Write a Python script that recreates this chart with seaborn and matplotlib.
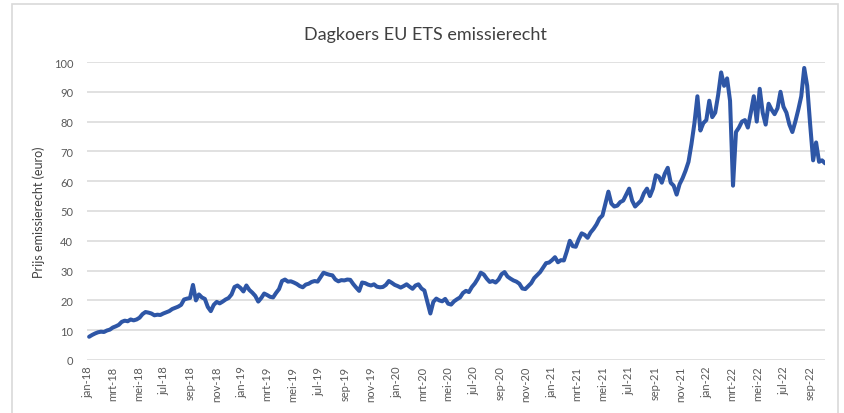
import numpy as np
import pandas as pd
import matplotlib
matplotlib.use("Agg")
import matplotlib.pyplot as plt
from matplotlib.patches import Rectangle
import seaborn as sns

# Weekly (Friday) closing prices, EUR
prices_2018 = [7.8, 8.4, 8.9, 9.3,
               9.5, 9.4, 9.9, 10.2,
               10.9, 11.3, 11.8, 12.8, 13.2,
               13.0, 13.6, 13.3, 13.6,
               14.2, 15.4, 16.1, 15.9,
               15.6, 15.0, 15.2, 15.1, 15.6,
               16.0, 16.4, 17.1, 17.5,
               17.9, 18.5, 20.3, 20.6, 20.8,
               25.2, 20.0, 22.0, 21.0,
               20.5, 17.8, 16.4, 18.5,
               19.5, 19.0, 19.6, 20.3, 20.8,
               22.0, 24.5, 25.0, 24.2]
prices_2019 = [23.0, 25.0, 23.5, 22.6,
               21.5, 19.6, 20.8, 22.3,
               21.8, 21.2, 21.0, 22.5, 23.8,
               26.5, 27.0, 26.3, 26.4,
               26.0, 25.5, 24.8, 24.4, 25.3,
               25.6, 26.2, 26.5, 26.3,
               27.8, 29.3, 28.9, 28.6,
               28.4, 27.0, 26.4, 26.8, 26.7,
               27.0, 26.9, 25.5, 24.3,
               23.2, 26.0, 25.8, 25.3,
               25.0, 25.4, 24.6, 24.4, 24.5,
               25.2, 26.5, 25.9, 25.2]
prices_2020 = [24.8, 24.3, 24.8, 25.4, 24.6,
               23.9, 25.0, 25.4, 24.0,
               23.3, 19.5, 15.6, 19.5,
               20.6, 20.0, 19.7, 20.5,
               18.9, 18.6, 19.7, 20.4, 21.0,
               22.5, 23.2, 22.8, 24.5,
               25.7, 27.3, 29.3, 28.7, 27.3,
               26.2, 26.5, 26.0, 27.0,
               28.8, 29.5, 28.0, 27.3,
               26.7, 26.3, 25.6, 24.0, 23.8,
               24.8, 25.8, 27.5, 28.5,
               29.5, 31.0, 32.5, 32.7]
prices_2021 = [33.5, 34.5, 32.8, 33.5, 33.4,
               36.5, 40.0, 38.2, 38.0,
               40.5, 42.5, 42.0, 41.0,
               42.8, 44.0, 45.5, 47.5, 48.5,
               52.5, 56.5, 52.5, 51.5,
               51.8, 53.0, 53.5, 55.5,
               57.5, 53.5, 51.5, 52.5, 53.5,
               56.0, 57.5, 55.0, 57.5,
               62.0, 61.5, 59.5, 62.5,
               64.5, 59.5, 58.5, 55.5, 59.0,
               61.0, 63.5, 66.5, 72.5,
               79.5, 88.5, 77.0, 79.5, 80.5]
prices_2022 = [87.0, 81.5, 83.0, 89.0,
               96.5, 92.0, 94.5, 87.0,
               58.5, 76.5, 78.0, 80.0,
               80.5, 78.0, 83.0, 88.5, 80.0,
               91.0, 83.0, 79.0, 86.0,
               84.0, 82.5, 84.5, 90.0,
               85.0, 83.0, 79.0, 76.5, 80.0,
               84.0, 88.5, 98.0, 92.0,
               79.0, 67.0, 73.0, 66.5, 67.0,
               66.0]
year_starts = ["2018-01-05", "2019-01-04", "2020-01-03", "2021-01-01", "2022-01-07"]
month_names = ["jan", "mrt", "mei", "jul", "sep", "nov"]

series = [prices_2018, prices_2019, prices_2020, prices_2021, prices_2022]
frames = []
for start, vals in zip(year_starts, series):
    d = pd.date_range(start, periods=len(vals), freq="W-FRI")
    frames.append(pd.DataFrame({"datum": d, "prijs": vals}))
df = pd.concat(frames, ignore_index=True)

sns.set_theme(style="white")
plt.rcParams["font.family"] = ["Lato", "DejaVu Sans"]

fig = plt.figure(figsize=(8.44, 4.14), dpi=100)
fig.patch.set_facecolor("white")
ax = fig.add_axes([87/844, 1-361/414, (825-87)/844, (361-63)/414])

sns.lineplot(data=df, x="datum", y="prijs", ax=ax, color="#2E56A6", linewidth=2.9)

ax.set_ylim(0, 100)
ax.set_yticks(np.arange(0, 101, 10))
ax.set_xlim(pd.Timestamp("2017-12-31"), df["datum"].iloc[-1])

ticks = pd.date_range("2018-01-01", "2022-09-01", freq="2MS")
labels = [f"{month_names[(t.month-1)//2]}-{t.strftime('%y')}" for t in ticks]
ax.set_xticks(ticks)
ax.set_xticklabels(labels, rotation=90, fontsize=8, color="#595959")
ax.tick_params(axis="y", labelsize=8, colors="#595959", length=0, pad=10)
ax.tick_params(axis="x", length=0, pad=4)

ax.grid(axis="y", color="#d9d9d9", linewidth=1.1)
ax.grid(axis="x", visible=False)
ax.set_axisbelow(True)
for s in ax.spines.values():
    s.set_visible(False)

ax.set_xlabel("")
ax.set_ylabel("Prijs emissierecht (euro)", fontsize=9, color="#404040", labelpad=6)
fig.text(425/844, 1-35/414, "Dagkoers EU ETS emissierecht", ha="center", va="center",
         fontsize=13, color="#404040")

fig.patches.append(Rectangle((12/844, -0.02), (838-12)/844, 1-5/414+0.02,
                             transform=fig.transFigure, fill=False,
                             edgecolor="#d9d9d9", linewidth=1.2))

fig.savefig("out.png", dpi=100, facecolor="white")
